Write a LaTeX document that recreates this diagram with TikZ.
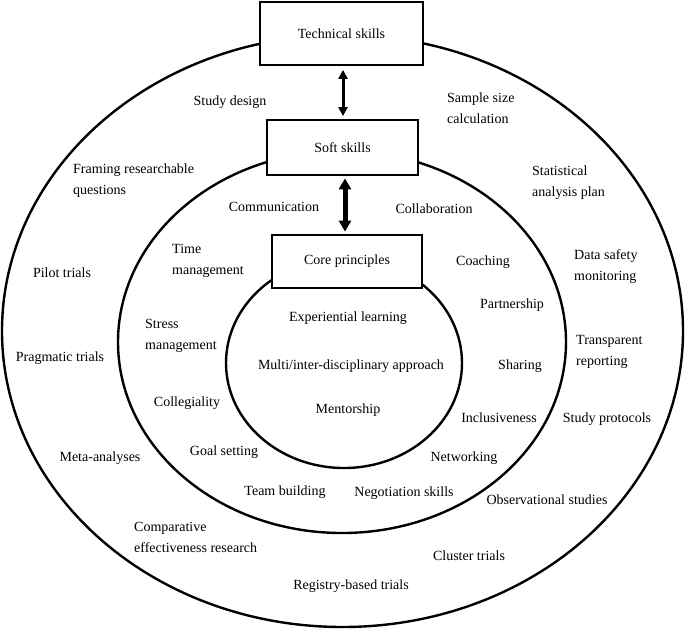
\documentclass[tikz,border=0pt]{standalone}
\usepackage{fontspec}
\setmainfont{Liberation Serif}
\usetikzlibrary{arrows.meta}
\tikzset{
  ring/.style={draw=black, line width=2.4pt},
  box/.style={draw=black, fill=white, line width=2.8pt, inner sep=0pt, font=\fontsize{14}{21}\selectfont},
  lbl/.style={inner sep=0pt, font=\fontsize{14}{21}\selectfont},
  ml/.style={lbl, align=left, anchor=west},
  thinarr/.style={line width=3pt, {Triangle[width=9pt,length=9pt]}-{Triangle[width=9pt,length=9pt]}},
  thickarr/.style={line width=5pt, {Triangle[width=12pt,length=11pt]}-{Triangle[width=12pt,length=11pt]}},
}
\begin{document}
\begin{tikzpicture}[x=1pt,y=-1pt]
\useasboundingbox (0,0) rectangle (685,630);
% rings
\draw[ring] (342.5,331) ellipse [x radius=340.5, y radius=296];
\draw[ring] (342,342) ellipse [x radius=224, y radius=191];
\draw[ring] (344,363) ellipse [x radius=118, y radius=105];
% boxes
\node[box, minimum width=163pt, minimum height=63pt] (tech) at (341.5,33.5) {Technical skills};
\node[box, minimum width=151pt, minimum height=55pt] (soft) at (342.5,147.5) {Soft skills};
\node[box, minimum width=150pt, minimum height=53pt] (core) at (347,261.5) {Core principles};
% arrows
\draw[thinarr, shorten <=3.5pt, shorten >=2.5pt] ([xshift=1.5pt]tech.south) -- ([xshift=0.5pt]soft.north);
\draw[thickarr, shorten <=2pt, shorten >=2pt] ([xshift=2.5pt]soft.south) -- ([xshift=-2pt]core.north);
% outer ring texts
\node[lbl] (sd) at (230,102) {Study design};
\node[ml] (ss) at (447,108.5) {Sample size\\calculation};
\node[ml] (fr) at (73,181) {Framing researchable\\questions};
\node[ml] (sap) at (532,182.5) {Statistical\\analysis plan};
\node[ml] (dsm) at (574,266.5) {Data safety\\monitoring};
\node[lbl] (pt) at (62,273) {Pilot trials};
\node[ml] (tr) at (576,352) {Transparent\\reporting};
\node[lbl] (pgt) at (60,358) {Pragmatic trials};
\node[lbl] (sp) at (607,419) {Study protocols};
\node[lbl] (ma) at (100,458) {Meta-analyses};
\node[lbl] (os) at (547,500) {Observational studies};
\node[ml] (cer) at (134,537.5) {Comparative\\effectiveness research};
\node[lbl] (ct) at (469,556) {Cluster trials};
\node[lbl] (rbt) at (351,586) {Registry-based trials};
% middle ring texts
\node[lbl] (com) at (274,207) {Communication};
\node[lbl] (col) at (434,209) {Collaboration};
\node[ml] (tm) at (172,260.5) {Time\\management};
\node[lbl] (coa) at (483,262) {Coaching};
\node[lbl] (par) at (512,305) {Partnership};
\node[ml] (sm) at (145,335.5) {Stress\\management};
\node[lbl] (sha) at (520,366) {Sharing};
\node[lbl] (cog) at (187,403) {Collegiality};
\node[lbl] (inc) at (499,418) {Inclusiveness};
\node[lbl] (gs) at (224,452) {Goal setting};
\node[lbl] (net) at (464,458) {Networking};
\node[lbl] (tb) at (285,492) {Team building};
\node[lbl] (ns) at (404,493) {Negotiation skills};
% inner texts
\node[lbl] (el) at (348,318) {Experiential learning};
\node[lbl] (mia) at (351,366) {Multi/inter-disciplinary approach};
\node[lbl] (men) at (348,410) {Mentorship};
\end{tikzpicture}
\end{document}
